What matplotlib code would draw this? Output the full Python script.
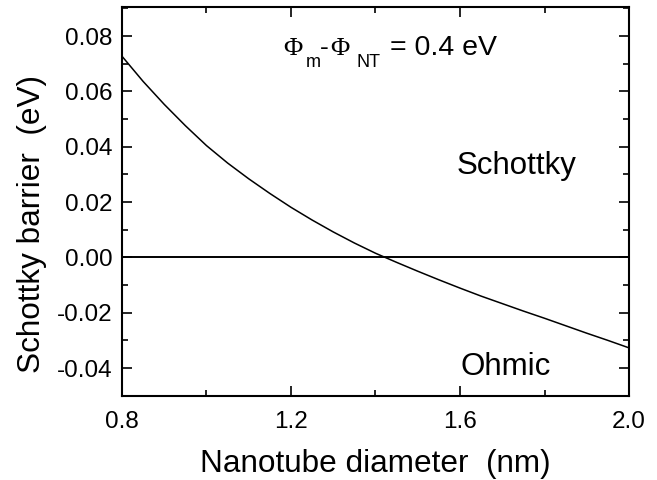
import matplotlib
matplotlib.use("Agg")
import matplotlib.pyplot as plt
from matplotlib.ticker import MultipleLocator

plt.rcParams['font.family'] = ['Liberation Sans', 'DejaVu Sans']

diameter = [0.80, 0.85, 0.90, 0.95, 1.00, 1.05, 1.10, 1.15, 1.20, 1.25, 1.30,
            1.35, 1.40, 1.45, 1.50, 1.55, 1.60, 1.65, 1.70, 1.75, 1.80, 1.85,
            1.90, 1.95, 2.00]
barrier = [0.0727, 0.0636, 0.0553, 0.0476, 0.0404, 0.0341, 0.0284, 0.0231,
           0.0181, 0.0135, 0.0092, 0.0052, 0.0015, -0.0018, -0.0050, -0.0081,
           -0.0111, -0.0140, -0.0167, -0.0194, -0.0220, -0.0247, -0.0274,
           -0.0300, -0.0327]
x_ticks = [0.8, 1.2, 1.6, 2.0]
y_ticks = [-0.04, -0.02, 0.00, 0.02, 0.04, 0.06, 0.08]

W, H = 657, 480
fig = plt.figure(figsize=(W / 100, H / 100), dpi=100)
ax = fig.add_axes([122 / W, 1 - 396 / H, (629 - 122) / W, (396 - 7) / H])

ax.plot(diameter, barrier, color='black', lw=1.1)
ax.axhline(0.0, color='black', lw=1.4)

ax.set_xlim(0.8, 2.0)
ax.set_ylim(-0.0501, 0.0905)
ax.set_xticks(x_ticks)
ax.set_xticklabels(['%.1f' % v for v in x_ticks])
ax.set_yticks(y_ticks)
ax.set_yticklabels(['%.2f' % v for v in y_ticks])
ax.xaxis.set_minor_locator(MultipleLocator(0.2))
ax.yaxis.set_minor_locator(MultipleLocator(0.01))

ax.tick_params(which='both', direction='in', top=True, right=True,
               labelsize=17.5, width=1.2)
ax.tick_params(which='major', length=7)
ax.tick_params(axis='y', which='major', pad=7)
ax.tick_params(axis='x', which='major', pad=11)
ax.tick_params(which='minor', length=4)
for s in ax.spines.values():
    s.set_linewidth(1.5)

ax.set_xlabel('Nanotube diameter  (nm)', fontsize=22.7)
ax.set_ylabel('Schottky barrier  (eV)', fontsize=22.7)
ax.xaxis.set_label_coords(0.5, -0.135)
ax.yaxis.set_label_coords(-0.148, 0.443)


def ftext(x, y, s, **kw):
    fig.text(x / W, 1 - y / H, s, va='baseline', ha='left', **kw)


serif = ['Liberation Serif', 'DejaVu Serif']
ftext(283, 55, '\u03A6', fontsize=19, family=serif)
ftext(306, 67, 'm', fontsize=13)
ftext(320, 55, '-', fontsize=19)
ftext(330, 55, '\u03A6', fontsize=19, family=serif)
ftext(357, 67, 'NT', fontsize=13)
ftext(390, 55, '= 0.4 eV', fontsize=20.5)
ftext(457, 174, 'Schottky', fontsize=22.5)
ftext(460, 375, 'Ohmic', fontsize=22.5)

fig.savefig('out.png', dpi=100)
